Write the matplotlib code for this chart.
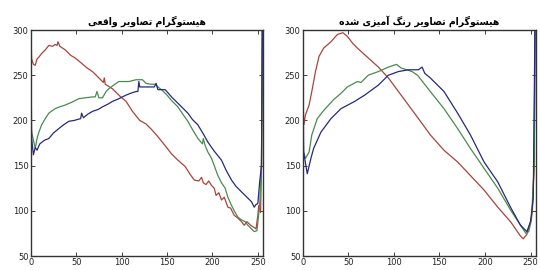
import numpy as np
import matplotlib
matplotlib.use('Agg')
from matplotlib import pyplot as plt

# --- data (x = grey level, y = mean count) ---
real_red_x = [0, 1, 3, 5, 7, 9, 12, 16, 20, 24, 27, 29, 30, 32, 38, 44, 49, 55, 62, 68, 75, 80, 81, 82,
              90, 98, 105, 112, 120, 127, 133, 140, 148, 155, 162, 170, 175, 180, 185, 188, 190, 193,
              196, 199, 202, 204, 207, 210, 213, 217, 220, 224, 228, 232, 235, 238, 242, 245, 248,
              250, 251, 253, 254, 255]
real_red_y = [305, 268, 262, 261, 268, 270, 274, 278, 283, 282, 284, 283, 287, 282, 278, 272, 269, 264,
              258, 254, 247, 242, 247, 240, 235, 227, 221, 210, 200, 196, 190, 182, 172, 163, 156, 149,
              141, 134, 133, 137, 131, 129, 133, 128, 125, 117, 120, 112, 115, 104, 103, 95, 92, 88, 84,
              88, 84, 82, 80, 95, 106, 98, 150, 310]

real_green_x = [0, 1, 3, 5, 7, 9, 12, 16, 20, 24, 27, 32, 38, 45, 53, 60, 68, 71, 73, 75, 79, 83, 86, 90,
                97, 103, 108, 112, 116, 123, 127, 132, 137, 140, 144, 150, 155, 162, 168, 173, 178, 184,
                189, 190, 192, 195, 199, 202, 206, 210, 214, 217, 221, 224, 228, 232, 236, 239, 243,
                246, 249, 252, 254, 255]
real_green_y = [200, 187, 178, 169, 180, 187, 195, 202, 208, 211, 213, 215, 217, 220, 224, 225, 226, 226,
                232, 225, 225, 232, 235, 238, 243, 243, 243, 244, 245, 245, 241, 240, 240, 237, 234, 228,
                222, 215, 206, 199, 190, 180, 174, 180, 172, 165, 158, 150, 139, 131, 125, 115, 106, 100,
                93, 90, 88, 84, 80, 77, 78, 106, 150, 310]

real_blue_x = [0, 1, 3, 5, 7, 10, 15, 20, 25, 31, 36, 42, 48, 55, 56, 58, 63, 68, 74, 79, 85, 90, 97,
               105, 110, 116, 118, 119, 120, 127, 132, 136, 138, 140, 148, 155, 162, 168, 173, 178, 184,
               190, 195, 202, 210, 215, 221, 226, 232, 238, 243, 246, 248, 250, 252, 254, 255]
real_blue_y = [320, 180, 162, 170, 167, 174, 178, 180, 186, 191, 195, 199, 200, 202, 208, 203, 207, 210,
               212, 215, 218, 221, 224, 228, 230, 232, 232, 243, 237, 237, 237, 237, 241, 234, 234, 226,
               219, 213, 208, 201, 195, 185, 176, 166, 156, 145, 134, 127, 121, 115, 110, 104, 107, 108,
               132, 150, 320]

col_red_x = [0, 1, 2, 3, 7, 10, 14, 18, 23, 31, 38, 44, 49, 55, 60, 72, 83, 94, 105, 116, 127, 140, 155,
             170, 184, 199, 214, 228, 239, 242, 246, 250, 252, 254, 255]
col_red_y = [255, 195, 200, 206, 217, 232, 254, 271, 280, 287, 295, 297, 293, 285, 280, 269, 259, 247,
             232, 217, 202, 184, 167, 154, 139, 123, 104, 88, 72, 69, 74, 88, 99, 150, 310]

col_green_x = [0, 1, 3, 7, 10, 16, 23, 34, 42, 49, 60, 64, 72, 83, 94, 103, 108, 120, 126, 140, 155,
               170, 184, 199, 214, 228, 239, 245, 248, 251, 254, 255]
col_green_y = [200, 165, 158, 165, 184, 202, 211, 223, 230, 237, 243, 242, 250, 254, 259, 262, 258, 254,
               250, 232, 213, 191, 169, 147, 125, 101, 84, 75, 77, 90, 150, 310]

col_blue_x = [0, 1, 5, 9, 12, 20, 31, 42, 57, 68, 83, 94, 105, 116, 127, 131, 134, 140, 155, 170, 184,
              199, 214, 228, 239, 246, 250, 253, 255]
col_blue_y = [320, 165, 141, 158, 169, 187, 202, 213, 221, 228, 239, 250, 254, 256, 256, 259, 252, 247,
              232, 208, 184, 154, 132, 104, 84, 77, 88, 114, 320]

title_real = 'هیستوگرام تصاویر واقعی'
title_color = 'هیستوگرام تصاویر رنگ آمیزی شده'

RED, GREEN, BLUE = '#a8443c', '#4a8a4f', '#262a78'

# matplotlib has no arabic shaping, so pick the contextual forms by hand
FORMS = {
    '\u0627': ('\uFE8D', '\uFE8E', None, None),
    '\u0622': ('\uFE81', '\uFE82', None, None),
    '\u062F': ('\uFEA9', '\uFEAA', None, None),
    '\u0631': ('\uFEAD', '\uFEAE', None, None),
    '\u0632': ('\uFEAF', '\uFEB0', None, None),
    '\u0648': ('\uFEED', '\uFEEE', None, None),
    '\u062A': ('\uFE95', '\uFE96', '\uFE97', '\uFE98'),
    '\u0633': ('\uFEB1', '\uFEB2', '\uFEB3', '\uFEB4'),
    '\u0634': ('\uFEB5', '\uFEB6', '\uFEB7', '\uFEB8'),
    '\u0635': ('\uFEB9', '\uFEBA', '\uFEBB', '\uFEBC'),
    '\u0639': ('\uFEC9', '\uFECA', '\uFECB', '\uFECC'),
    '\u0642': ('\uFED5', '\uFED6', '\uFED7', '\uFED8'),
    '\u0645': ('\uFEE1', '\uFEE2', '\uFEE3', '\uFEE4'),
    '\u0646': ('\uFEE5', '\uFEE6', '\uFEE7', '\uFEE8'),
    '\u0647': ('\uFEE9', '\uFEEA', '\uFEEB', '\uFEEC'),
    '\u06AF': ('\uFB92', '\uFB93', '\uFB94', '\uFB95'),
    '\u06CC': ('\uFBFC', '\uFBFD', '\uFBFE', '\uFBFF'),
}


def shape(text):
    out = []
    for i, ch in enumerate(text):
        if ch not in FORMS:
            out.append(ch)
            continue
        prev = text[i - 1] if i > 0 else None
        nxt = text[i + 1] if i + 1 < len(text) else None
        jp = prev in FORMS and FORMS[prev][2] is not None
        jn = nxt in FORMS and FORMS[ch][2] is not None
        iso, fin, ini, med = FORMS[ch]
        if jp and jn:
            out.append(med)
        elif jp:
            out.append(fin)
        elif jn:
            out.append(ini)
        else:
            out.append(iso)
    return ''.join(out)[::-1]


fig = plt.figure(figsize=(5.4, 2.7), dpi=100)
ax1 = fig.add_axes([30.7 / 540, 1 - 256 / 270, 232.6 / 540, 226 / 270])
ax2 = fig.add_axes([302.7 / 540, 1 - 256 / 270, 233.3 / 540, 226 / 270])

panels = [
    (ax1, title_real, [(real_red_x, real_red_y, RED), (real_green_x, real_green_y, GREEN),
                       (real_blue_x, real_blue_y, BLUE)]),
    (ax2, title_color, [(col_red_x, col_red_y, RED), (col_green_x, col_green_y, GREEN),
                        (col_blue_x, col_blue_y, BLUE)]),
]

for ax, title, series in panels:
    for xs, ys, c in series:
        ax.plot(xs, ys, color=c, lw=0.9)
    ax.set_xlim(0, 256)
    ax.set_ylim(50, 300)
    ax.set_xticks([0, 50, 100, 150, 200, 250])
    ax.set_yticks([50, 100, 150, 200, 250, 300])
    ax.tick_params(direction='in', top=True, right=True, length=3, width=0.6,
                   labelsize=6, pad=1.5, colors='#222222')
    for sp in ax.spines.values():
        sp.set_linewidth(1.0)
        sp.set_color('#333333')
    ax.set_title(shape(title), fontsize=7.5, fontweight='bold', fontstretch='condensed',
                 family=['DejaVu Sans'], pad=4)

fig.savefig('out.png', dpi=100)
